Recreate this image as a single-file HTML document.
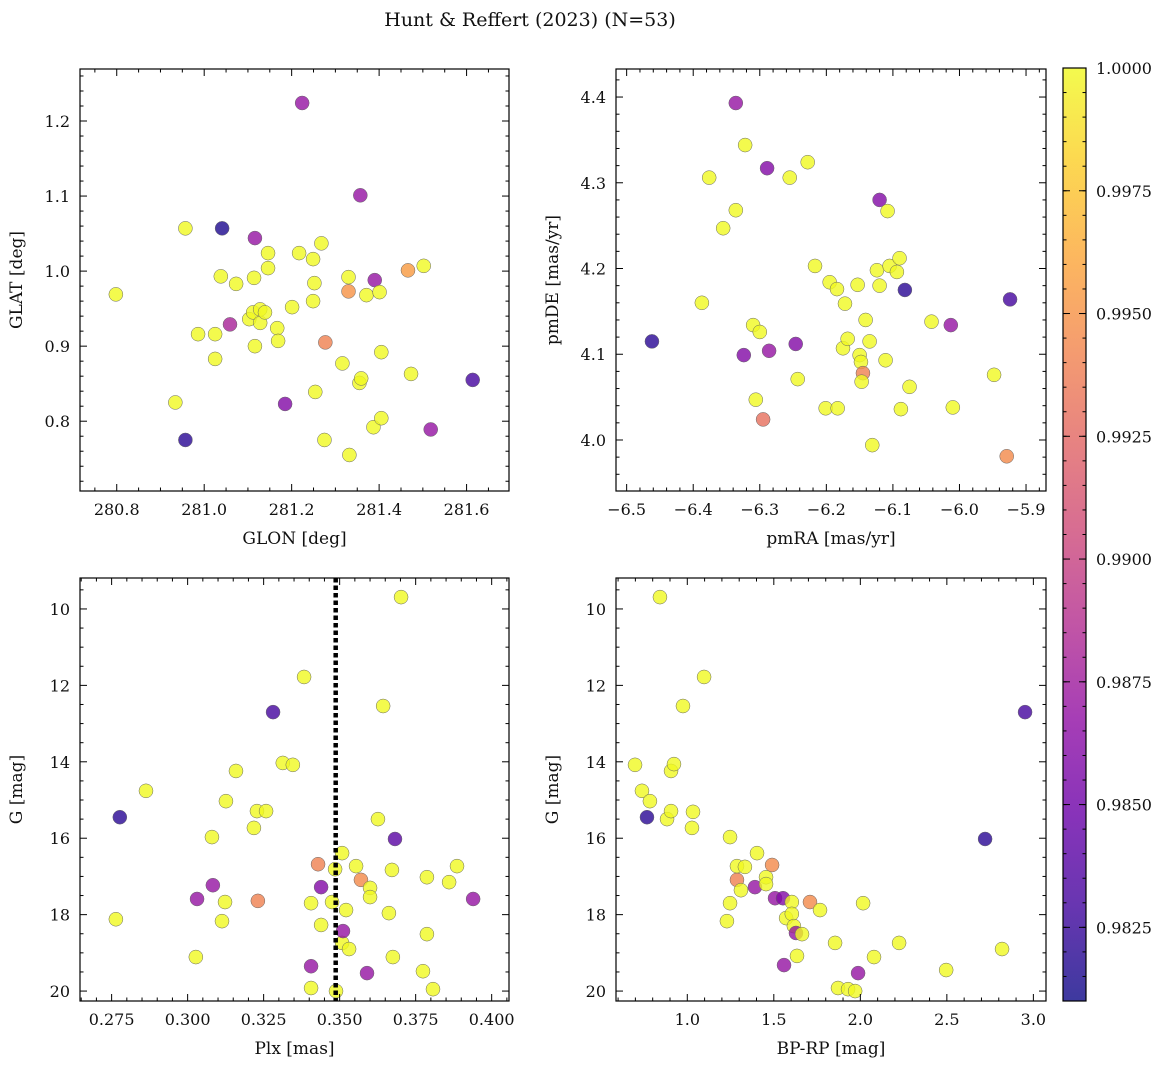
<!DOCTYPE html>
<html><head><meta charset="utf-8"><style>
body{margin:0;background:#fff;}
svg text{font-family:"DejaVu Serif","Liberation Serif",serif;fill:#111;}
</style></head><body>
<svg id="fig" width="1173" height="1068" viewBox="0 0 1173 1068" xmlns="http://www.w3.org/2000/svg">
<defs><linearGradient id="cbg" x1="0" y1="1" x2="0" y2="0">
<stop offset="0" stop-color="#0d0887"/><stop offset="0.1" stop-color="#41049d"/><stop offset="0.2" stop-color="#6a00a8"/><stop offset="0.3" stop-color="#8f0da4"/><stop offset="0.4" stop-color="#b12a90"/><stop offset="0.5" stop-color="#cc4778"/><stop offset="0.6" stop-color="#e16462"/><stop offset="0.7" stop-color="#f2844b"/><stop offset="0.8" stop-color="#fca636"/><stop offset="0.9" stop-color="#fcce25"/><stop offset="1" stop-color="#f0f921"/>
</linearGradient></defs>
<text x="530" y="26" font-size="19" text-anchor="middle">Hunt &amp; Reffert (2023) (N=53)</text>
</svg>
<script>
// Panel 1: GLON vs GLAT
const p1Lon=[280.798,280.934,280.957,280.957,280.986,281.025,281.025,281.038,281.041,281.059,281.073,281.103,281.112,281.114,281.116,281.116,281.128,281.128,281.139,281.146,281.146,281.167,281.169,281.185,281.201,281.217,281.224,281.249,281.249,281.252,281.254,281.268,281.275,281.277,281.316,281.330,281.330,281.332,281.355,281.359,281.357,281.371,281.387,281.390,281.401,281.405,281.405,281.466,281.473,281.502,281.518,281.614];
const p1Lat=[0.969,0.825,0.775,1.057,0.916,0.883,0.916,0.993,1.057,0.929,0.983,0.936,0.945,0.991,0.900,1.044,0.931,0.949,0.945,1.024,1.004,0.924,0.907,0.823,0.952,1.024,1.224,1.016,0.960,0.984,0.839,1.037,0.775,0.905,0.877,0.992,0.973,0.755,0.851,0.857,1.101,0.968,0.792,0.988,0.972,0.892,0.804,1.001,0.863,1.007,0.789,0.855];
const p1Prob=[1,1,0.982,1,1,1,1,1,0.9815,0.988,1,1,1,1,1,0.987,1,1,1,1,1,1,1,0.986,1,1,0.987,1,1,1,1,1,1,0.994,1,1,0.995,1,1,1,0.987,1,1,0.987,1,1,1,0.9955,1,1,0.987,0.983];
// Panel 2: pmRA vs pmDE
const p2RA=[-6.462,-6.387,-6.376,-6.355,-6.336,-6.336,-6.322,-6.324,-6.310,-6.306,-6.300,-6.295,-6.289,-6.286,-6.255,-6.246,-6.243,-6.228,-6.217,-6.201,-6.195,-6.184,-6.183,-6.175,-6.172,-6.168,-6.153,-6.150,-6.148,-6.145,-6.147,-6.141,-6.135,-6.131,-6.124,-6.120,-6.120,-6.111,-6.108,-6.105,-6.094,-6.090,-6.088,-6.082,-6.075,-6.042,-6.013,-6.010,-5.948,-5.929,-5.924];
const p2DE=[4.115,4.160,4.306,4.247,4.268,4.393,4.344,4.099,4.134,4.047,4.126,4.024,4.317,4.104,4.306,4.112,4.071,4.324,4.203,4.037,4.184,4.176,4.037,4.107,4.159,4.118,4.181,4.099,4.091,4.078,4.068,4.140,4.115,3.994,4.198,4.280,4.180,4.093,4.267,4.203,4.196,4.212,4.036,4.175,4.062,4.138,4.134,4.038,4.076,3.981,4.164];
const p2Prob=[0.982,1,1,1,1,0.987,1,0.986,1,1,1,0.993,0.986,0.987,1,0.986,1,1,1,1,1,1,1,1,1,1,1,1,1,0.994,1,1,1,1,1,0.986,1,1,1,1,1,1,1,0.982,1,1,0.987,1,1,0.9945,0.983];
// Panel 3: Plx vs G
const p3Plx=[0.2764,0.2777,0.2863,0.3027,0.3031,0.3080,0.3083,0.3113,0.3123,0.3126,0.3159,0.3218,0.3228,0.3231,0.3258,0.3281,0.3313,0.3346,0.3383,0.3406,0.3406,0.3406,0.3429,0.3439,0.3439,0.3475,0.3485,0.3488,0.3508,0.3508,0.3511,0.3521,0.3531,0.3554,0.3570,0.3590,0.3600,0.3600,0.3626,0.3643,0.3662,0.3672,0.3675,0.3682,0.3702,0.3774,0.3787,0.3787,0.3807,0.3860,0.3886,0.3939];
const p3G=[18.12,15.45,14.76,19.11,17.59,15.97,17.23,18.17,17.67,15.03,14.24,15.73,15.29,17.64,15.29,12.70,14.03,14.08,11.78,19.92,17.70,19.35,16.68,17.28,18.27,17.67,16.81,20.00,18.74,16.39,18.43,17.88,18.90,16.73,17.09,19.53,17.30,17.54,15.50,12.54,17.96,16.83,19.11,16.02,9.69,19.48,18.51,17.02,19.95,17.15,16.73,17.59];
const p3Prob=[1,0.982,1,1,0.987,1,0.987,1,1,1,1,1,1,0.994,1,0.983,1,1,1,1,1,0.987,0.994,0.986,1,1,1,1,1,1,0.987,1,1,1,0.9945,0.987,1,1,1,1,1,1,1,0.984,1,1,1,1,1,1,1,0.987];
const plxMean=0.3487;
// Panel 4: BP-RP vs G
const p4BR=[0.698,0.738,0.784,0.767,0.842,0.883,0.906,0.923,0.906,0.975,1.027,1.033,1.097,1.229,1.247,1.247,1.287,1.287,1.310,1.333,1.391,1.403,1.455,1.455,1.490,1.507,1.553,1.559,1.571,1.604,1.604,1.616,1.628,1.634,1.663,1.709,1.767,1.854,1.871,1.929,1.970,1.987,2.016,2.079,2.224,2.496,2.721,2.819,2.952];
const p4G=[14.08,14.76,15.03,15.45,9.69,15.50,14.24,14.06,15.29,12.54,15.73,15.31,11.78,18.17,15.97,17.70,17.09,16.73,17.36,16.75,17.28,16.39,17.02,17.20,16.70,17.57,17.57,19.32,18.09,17.67,17.98,18.30,18.48,19.08,18.51,17.67,17.88,18.74,19.92,19.95,20.00,19.53,17.70,19.11,18.74,19.45,16.02,18.90,12.70];
const p4Prob=[1,1,1,0.982,1,1,1,1,1,1,1,1,1,1,1,1,0.994,1,1,1,0.987,1,1,1,0.9945,0.987,0.986,0.987,1,1,1,1,0.987,1,1,0.9945,1,1,1,1,1,0.987,1,1,1,1,0.982,1,0.983];
// Colorbar ticks
const cbTicks=[0.9825,0.9850,0.9875,0.9900,0.9925,0.9950,0.9975,1.0000];
const cbMin=0.9810, cbMax=1.0;

const NS='http://www.w3.org/2000/svg';
const svg=document.getElementById('fig');
function mk(tag,attrs,parent){const e=document.createElementNS(NS,tag);for(const k in attrs)e.setAttribute(k,attrs[k]);(parent||svg).appendChild(e);return e;}
const stops=[[13,8,135],[65,4,157],[106,0,168],[143,13,164],[177,42,144],[204,71,120],[225,100,98],[242,132,75],[252,166,54],[252,206,37],[240,249,33]];
function plasma(v){let t=(v-cbMin)/(cbMax-cbMin);t=Math.max(0,Math.min(1,t));const s=t*10;const i=Math.min(9,Math.floor(s));const f=s-i;const a=stops[i],b=stops[i+1];return 'rgb('+[0,1,2].map(k=>Math.round(a[k]+(b[k]-a[k])*f)).join(',')+')';}
function fmt(v,d){return v.toFixed(d).replace('-','\u2212');}

function panel(o){
  const g=mk('g',{});
  
  
  const sx=v=>o.x0+(v-o.xmin)/(o.xmax-o.xmin)*(o.x1-o.x0);
  const sy=o.yinv?(v=>o.y0+(v-o.ymin)/(o.ymax-o.ymin)*(o.y1-o.y0)):(v=>o.y1-(v-o.ymin)/(o.ymax-o.ymin)*(o.y1-o.y0));
  for(let i=0;i<o.xs.length;i++){
    const c=mk('circle',{cx:sx(o.xs[i]),cy:sy(o.ys[i]),r:7,fill:plasma(o.ps[i]),'fill-opacity':0.8,stroke:'#666','stroke-width':0.5},g);
    
    
  }
  if(o.extra)o.extra(g,sx,sy);
  mk('rect',{x:o.x0,y:o.y0,width:o.x1-o.x0,height:o.y1-o.y0,fill:'none',stroke:'#000','stroke-width':1.2},g);
  const eps=1e-9;
  for(let v=Math.ceil(o.xmin/o.xminor-eps)*o.xminor;v<=o.xmax+eps;v+=o.xminor){
    const major=Math.abs(v/o.xmajor-Math.round(v/o.xmajor))<1e-6;const L=major?7:3.5;const x=sx(v);
    mk('line',{x1:x,x2:x,y1:o.y1,y2:o.y1-L,stroke:'#000','stroke-width':1},g);
    mk('line',{x1:x,x2:x,y1:o.y0,y2:o.y0+L,stroke:'#000','stroke-width':1},g);
    if(major){const t=mk('text',{x:x,y:o.y1+24,'font-size':16,'text-anchor':'middle'},g);t.textContent=fmt(Math.round(v/o.xmajor)*o.xmajor,o.xd);
      }
  }
  for(let v=Math.ceil(o.ymin/o.yminor-eps)*o.yminor;v<=o.ymax+eps;v+=o.yminor){
    const major=Math.abs(v/o.ymajor-Math.round(v/o.ymajor))<1e-6;const L=major?7:3.5;const y=sy(v);
    mk('line',{x1:o.x0,x2:o.x0+L,y1:y,y2:y,stroke:'#000','stroke-width':1},g);
    mk('line',{x1:o.x1,x2:o.x1-L,y1:y,y2:y,stroke:'#000','stroke-width':1},g);
    if(major){const t=mk('text',{x:o.x0-10,y:y+6,'font-size':16,'text-anchor':'end'},g);t.textContent=fmt(Math.round(v/o.ymajor)*o.ymajor,o.yd);
      }
  }
  const xl=mk('text',{x:(o.x0+o.x1)/2,y:o.y1+53,'font-size':17,'text-anchor':'middle'},g);xl.textContent=o.xlabel;
  
  const lx=o.x0-58,ly=(o.y0+o.y1)/2;
  const yl=mk('text',{x:lx,y:ly,'font-size':17,'text-anchor':'middle',transform:'rotate(-90 '+lx+' '+ly+')'},g);yl.textContent=o.ylabel;
  
}

panel({name:'glon-glat-panel',x0:80,x1:509,y0:69,y1:491,xmin:280.716,xmax:281.697,ymin:0.707,ymax:1.2693,xmajor:0.2,xminor:0.05,ymajor:0.1,yminor:0.02,xd:1,yd:1,xs:p1Lon,ys:p1Lat,ps:p1Prob,xlabel:'GLON [deg]',ylabel:'GLAT [deg]'});
panel({name:'proper-motion-panel',x0:616,x1:1046,y0:69,y1:491,xmin:-6.516,xmax:-5.870,ymin:3.9405,ymax:4.4327,xmajor:0.1,xminor:0.02,ymajor:0.1,yminor:0.02,xd:1,yd:1,xs:p2RA,ys:p2DE,ps:p2Prob,xlabel:'pmRA [mas/yr]',ylabel:'pmDE [mas/yr]'});
panel({name:'parallax-mag-panel',x0:80,x1:509,y0:578,y1:1001,xmin:0.2646,xmax:0.4057,ymin:9.19,ymax:20.26,yinv:true,xmajor:0.025,xminor:0.005,ymajor:2,yminor:0.5,xd:3,yd:0,xs:p3Plx,ys:p3G,ps:p3Prob,xlabel:'Plx [mas]',ylabel:'G [mag]',
  extra:(g,sx,sy)=>{const l=mk('line',{x1:sx(plxMean),x2:sx(plxMean),y1:578,y2:1001,stroke:'#000','stroke-width':4.5,'stroke-dasharray':'4.5,3'},g);
    }});
panel({name:'cmd-panel',x0:616,x1:1046,y0:578,y1:1001,xmin:0.588,xmax:3.073,ymin:9.19,ymax:20.26,yinv:true,xmajor:0.5,xminor:0.1,ymajor:2,yminor:0.5,xd:1,yd:0,xs:p4BR,ys:p4G,ps:p4Prob,xlabel:'BP-RP [mag]',ylabel:'G [mag]'});

const cb=mk('g',{});


const cy0=68,cy1=1001,cx0=1063,cx1=1086;
mk('rect',{x:cx0,y:cy0,width:cx1-cx0,height:cy1-cy0,fill:'url(#cbg)','fill-opacity':0.8},cb);
mk('rect',{x:cx0,y:cy0,width:cx1-cx0,height:cy1-cy0,fill:'none',stroke:'#000','stroke-width':1.2},cb);
const cys=v=>cy1-(v-cbMin)/(cbMax-cbMin)*(cy1-cy0);
for(let v=0.9810;v<=1.00001;v+=0.0005){const y=cys(v);mk('line',{x1:cx1,x2:cx1-3.5,y1:y,y2:y,stroke:'#000','stroke-width':1},cb);mk('line',{x1:cx0,x2:cx0+3.5,y1:y,y2:y,stroke:'#000','stroke-width':1},cb);}
cbTicks.forEach(v=>{const y=cys(v);mk('line',{x1:cx1,x2:cx1-7,y1:y,y2:y,stroke:'#000','stroke-width':1},cb);mk('line',{x1:cx0,x2:cx0+7,y1:y,y2:y,stroke:'#000','stroke-width':1},cb);
  const t=mk('text',{x:cx1+10,y:y+6,'font-size':16},cb);t.textContent=v.toFixed(4);
  });
</script>
</body></html>
